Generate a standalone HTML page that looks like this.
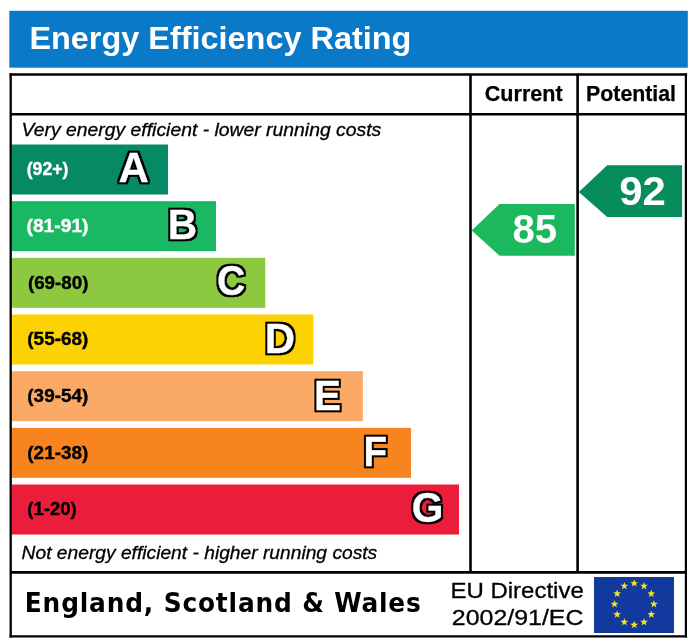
<!DOCTYPE html>
<html><head><meta charset="utf-8"><title>Energy Efficiency Rating</title>
<style>
html,body{margin:0;padding:0;background:#fff;width:700px;height:642px;overflow:hidden}
svg{display:block}
text{font-family:"Liberation Sans",Arial,sans-serif}
.title{font-weight:bold;font-size:32px;fill:#fff}
.hd{font-weight:bold;font-size:22px;fill:#000;stroke:#000;stroke-width:0.25px}
.it{font-style:italic;font-size:18.8px;fill:#000;stroke:#000;stroke-width:0.3px}
.lab{font-weight:bold;font-size:17.5px;stroke-width:0.35px}
.let{font-weight:bold;font-size:42.5px;fill:#000;stroke:#000;stroke-width:4.4px;stroke-linejoin:round}
.letw{font-weight:bold;font-size:42.5px;fill:#fff;stroke:#fff;stroke-width:0.3px;stroke-linejoin:round}
.num{font-weight:bold;font-size:41.5px;fill:#fff}
.foot{font-family:"DejaVu Sans",sans-serif;font-stretch:condensed;letter-spacing:0.8px;font-weight:bold;font-size:26px;fill:#000}
.eu{font-size:22.6px;fill:#000;stroke:#000;stroke-width:0.3px}
</style></head>
<body>
<svg width="700" height="642" viewBox="0 0 700 642">
<defs><filter id="ol" x="-30%" y="-30%" width="160%" height="160%" color-interpolation-filters="sRGB">
<feMorphology in="SourceAlpha" operator="dilate" radius="2" result="d"/>
<feFlood flood-color="#000"/>
<feComposite in2="d" operator="in" result="o"/>
<feMerge><feMergeNode in="o"/><feMergeNode in="SourceGraphic"/></feMerge>
</filter></defs>
<rect x="0" y="0" width="700" height="642" fill="#fff"/>
<rect x="9.3" y="10.8" width="678.5" height="56.9" fill="#0a7ac8"/>
<text x="29.40" y="49.30" class="title" textLength="381.98" lengthAdjust="spacingAndGlyphs">Energy Efficiency Rating</text>
<rect x="11.5" y="144.50" width="156.50" height="50.0" fill="#068a64"/>
<text x="26.70" y="175.20" class="lab" textLength="41.74" lengthAdjust="spacingAndGlyphs" fill="#fff" stroke="#fff">(92+)</text>
<text x="118.50" y="181.80" class="letw" textLength="30.34" lengthAdjust="spacingAndGlyphs" filter="url(#ol)">A</text>
<rect x="11.5" y="201.17" width="204.50" height="50.0" fill="#1ab862"/>
<text x="26.50" y="231.87" class="lab" textLength="62.02" lengthAdjust="spacingAndGlyphs" fill="#fff" stroke="#fff">(81-91)</text>
<text x="167.80" y="238.97" class="letw" textLength="29.34" lengthAdjust="spacingAndGlyphs" filter="url(#ol)">B</text>
<rect x="11.5" y="257.84" width="253.80" height="50.0" fill="#8cc940"/>
<text x="27.90" y="288.54" class="lab" textLength="60.62" lengthAdjust="spacingAndGlyphs" fill="#000" stroke="#000">(69-80)</text>
<text x="216.90" y="294.84" class="letw" textLength="28.34" lengthAdjust="spacingAndGlyphs" filter="url(#ol)">C</text>
<rect x="11.5" y="314.51" width="301.80" height="50.0" fill="#fdd203"/>
<text x="27.30" y="345.21" class="lab" textLength="61.02" lengthAdjust="spacingAndGlyphs" fill="#000" stroke="#000">(55-68)</text>
<text x="264.70" y="352.71" class="letw" textLength="30.34" lengthAdjust="spacingAndGlyphs" filter="url(#ol)">D</text>
<rect x="11.5" y="371.18" width="351.40" height="50.0" fill="#faa966"/>
<text x="27.30" y="401.88" class="lab" textLength="61.02" lengthAdjust="spacingAndGlyphs" fill="#000" stroke="#000">(39-54)</text>
<text x="313.90" y="409.63" class="letw" textLength="27.02" lengthAdjust="spacingAndGlyphs" filter="url(#ol)">E</text>
<rect x="11.5" y="427.85" width="399.50" height="50.0" fill="#f7841f"/>
<text x="27.30" y="458.55" class="lab" textLength="61.02" lengthAdjust="spacingAndGlyphs" fill="#000" stroke="#000">(21-38)</text>
<text x="363.50" y="465.55" class="letw" textLength="23.66" lengthAdjust="spacingAndGlyphs" filter="url(#ol)">F</text>
<rect x="11.5" y="484.52" width="447.50" height="50.0" fill="#ec1d3b"/>
<text x="27.30" y="515.22" class="lab" textLength="49.49" lengthAdjust="spacingAndGlyphs" fill="#000" stroke="#000">(1-20)</text>
<text x="411.80" y="521.77" class="letw" textLength="31.67" lengthAdjust="spacingAndGlyphs" filter="url(#ol)">G</text>
<polygon points="471.7,230.4 499.5,203.9 574.8,203.9 574.8,255.7 499.5,255.7" fill="#1cb85e"/>
<text x="512.40" y="242.80" class="num" textLength="44.77" lengthAdjust="spacingAndGlyphs">85</text>
<polygon points="578.8,191.9 607.2,165.3 682.1,165.3 682.1,217.1 607.2,217.1" fill="#078c5c"/>
<text x="619.30" y="204.70" class="num" textLength="46.57" lengthAdjust="spacingAndGlyphs">92</text>
<g fill="none" stroke="#000" stroke-width="2.6">
<line x1="9.6" y1="74.5" x2="687.1" y2="74.5"/>
<line x1="9.6" y1="636.4" x2="687.1" y2="636.4" stroke-width="2.2"/>
<line x1="10.7" y1="73.2" x2="10.7" y2="637.5" stroke-width="2.3"/>
<line x1="685.9" y1="73.2" x2="685.9" y2="637.5" stroke-width="2.2"/>
<line x1="10.8" y1="114.3" x2="686.2" y2="114.3"/>
<line x1="10.8" y1="572.4" x2="686.2" y2="572.4"/>
<line x1="470.5" y1="74.5" x2="470.5" y2="572.4"/>
<line x1="577.6" y1="74.5" x2="577.6" y2="572.4"/>
</g>
<text x="484.80" y="101.40" class="hd" textLength="77.85" lengthAdjust="spacingAndGlyphs">Current</text>
<text x="586.10" y="101.40" class="hd" textLength="89.91" lengthAdjust="spacingAndGlyphs">Potential</text>
<text x="21.60" y="135.80" class="it" textLength="359.62" lengthAdjust="spacingAndGlyphs">Very energy efficient - lower running costs</text>
<text x="21.60" y="558.60" class="it" textLength="355.64" lengthAdjust="spacingAndGlyphs">Not energy efficient - higher running costs</text>
<text x="24.80" y="612.20" class="foot" textLength="396.92" lengthAdjust="spacingAndGlyphs">England, Scotland &amp; Wales</text>
<text x="450.40" y="598.10" class="eu" textLength="133.41" lengthAdjust="spacingAndGlyphs">EU Directive</text>
<text x="451.80" y="625.10" class="eu" textLength="131.68" lengthAdjust="spacingAndGlyphs">2002/91/EC</text>
<rect x="594" y="577" width="80" height="56" fill="#11399e"/>
<g fill="#f7e11b">
<polygon points="634.20,579.20 635.20,581.92 638.10,582.03 635.82,583.83 636.61,586.62 634.20,585.00 631.79,586.62 632.58,583.83 630.30,582.03 633.20,581.92"/>
<polygon points="644.05,581.99 645.05,584.71 647.95,584.82 645.67,586.61 646.46,589.40 644.05,587.79 641.64,589.40 642.43,586.61 640.15,584.82 643.05,584.71"/>
<polygon points="651.26,589.60 652.26,592.32 655.16,592.43 652.88,594.23 653.67,597.02 651.26,595.40 648.85,597.02 649.64,594.23 647.36,592.43 650.26,592.32"/>
<polygon points="653.90,600.00 654.90,602.72 657.80,602.83 655.52,604.63 656.31,607.42 653.90,605.80 651.49,607.42 652.28,604.63 650.00,602.83 652.90,602.72"/>
<polygon points="651.26,610.40 652.26,613.12 655.16,613.23 652.88,615.03 653.67,617.82 651.26,616.20 648.85,617.82 649.64,615.03 647.36,613.23 650.26,613.12"/>
<polygon points="644.05,618.01 645.05,620.74 647.95,620.85 645.67,622.64 646.46,625.43 644.05,623.81 641.64,625.43 642.43,622.64 640.15,620.85 643.05,620.74"/>
<polygon points="634.20,620.80 635.20,623.52 638.10,623.63 635.82,625.43 636.61,628.22 634.20,626.60 631.79,628.22 632.58,625.43 630.30,623.63 633.20,623.52"/>
<polygon points="624.35,618.01 625.35,620.74 628.25,620.85 625.97,622.64 626.76,625.43 624.35,623.81 621.94,625.43 622.73,622.64 620.45,620.85 623.35,620.74"/>
<polygon points="617.14,610.40 618.14,613.12 621.04,613.23 618.76,615.03 619.55,617.82 617.14,616.20 614.73,617.82 615.52,615.03 613.24,613.23 616.14,613.12"/>
<polygon points="614.50,600.00 615.50,602.72 618.40,602.83 616.12,604.63 616.91,607.42 614.50,605.80 612.09,607.42 612.88,604.63 610.60,602.83 613.50,602.72"/>
<polygon points="617.14,589.60 618.14,592.32 621.04,592.43 618.76,594.23 619.55,597.02 617.14,595.40 614.73,597.02 615.52,594.23 613.24,592.43 616.14,592.32"/>
<polygon points="624.35,581.99 625.35,584.71 628.25,584.82 625.97,586.61 626.76,589.40 624.35,587.79 621.94,589.40 622.73,586.61 620.45,584.82 623.35,584.71"/>
</g>
</svg>
</body></html>
